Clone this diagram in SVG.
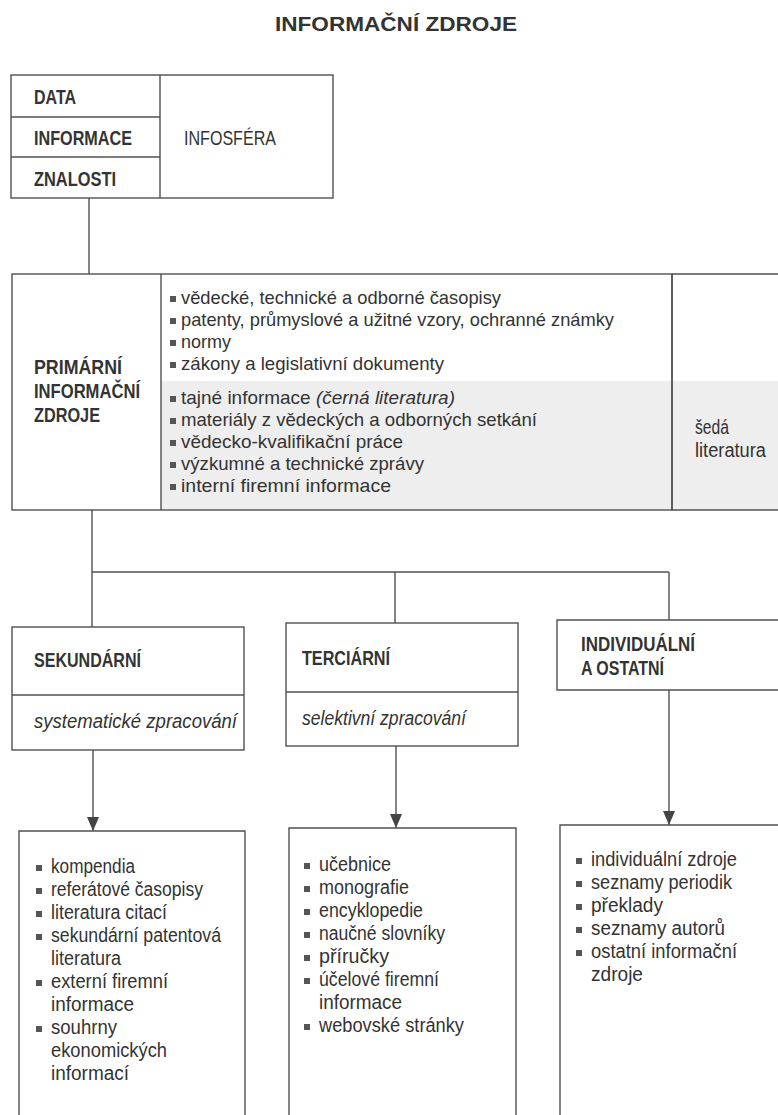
<svg xmlns="http://www.w3.org/2000/svg" width="778" height="1115" viewBox="0 0 778 1115">
<defs>
<style>
.box{fill:none;stroke:#505050;stroke-width:1.4}
.ln{fill:none;stroke:#505050;stroke-width:1.4}
.t{font-family:"Liberation Sans Narrow","Liberation Sans",Arial,sans-serif;font-size:20px;fill:#333}
.p{font-family:"Liberation Sans Narrow","Liberation Sans",Arial,sans-serif;font-size:19px;fill:#333}
.h{font-family:"Liberation Sans Narrow","Liberation Sans",Arial,sans-serif;font-size:20px;font-weight:bold;fill:#333}
.hr{font-family:"Liberation Sans Narrow","Liberation Sans",Arial,sans-serif;font-size:20px;fill:#333}
.i{font-family:"Liberation Sans Narrow","Liberation Sans",Arial,sans-serif;font-size:20px;font-style:italic;fill:#333}
.title{font-family:"Liberation Sans",Arial,sans-serif;font-size:21px;font-weight:bold;fill:#333}
.b{fill:#555}
</style>
<marker id="arr" viewBox="0 0 14 12" refX="14" refY="6" markerWidth="14" markerHeight="12" markerUnits="userSpaceOnUse" orient="auto">
<path d="M0,0 L14,6 L0,12 Z" fill="#444"/>
</marker>
</defs>
<rect width="778" height="1115" fill="#fff"/>
<text class="title" x="275" y="31" textLength="242" lengthAdjust="spacingAndGlyphs">INFORMAČNÍ ZDROJE</text>

<g id="connectors">
<line class="ln" x1="89" y1="198" x2="89" y2="274"/>
<line class="ln" x1="92" y1="510" x2="92" y2="627"/>
<line class="ln" x1="92" y1="572" x2="669" y2="572"/>
<line class="ln" x1="395" y1="572" x2="395" y2="623"/>
<line class="ln" x1="669" y1="572" x2="669" y2="620"/>
<line class="ln" x1="93" y1="750" x2="93" y2="831" marker-end="url(#arr)"/>
<line class="ln" x1="396" y1="746" x2="396" y2="828" marker-end="url(#arr)"/>
<line class="ln" x1="669" y1="690" x2="669" y2="825" marker-end="url(#arr)"/>
</g>

<g id="node-top">
<rect class="box" x="11" y="75" width="322" height="123"/>
<line class="ln" x1="160" y1="75" x2="160" y2="198"/>
<line class="ln" x1="11" y1="117" x2="160" y2="117"/>
<line class="ln" x1="11" y1="157" x2="160" y2="157"/>
<text class="h" x="34" y="104" textLength="42" lengthAdjust="spacingAndGlyphs">DATA</text>
<text class="h" x="34" y="145" textLength="98" lengthAdjust="spacingAndGlyphs">INFORMACE</text>
<text class="h" x="34" y="186" textLength="82" lengthAdjust="spacingAndGlyphs">ZNALOSTI</text>
<text class="hr" x="184" y="145" textLength="92" lengthAdjust="spacingAndGlyphs">INFOSFÉRA</text>
</g>

<g id="node-primary">
<rect x="161" y="381" width="617" height="129" fill="#eeeeee"/>
<rect class="box" x="12" y="274" width="660" height="236"/>
<line class="ln" x1="161" y1="274" x2="161" y2="510"/>
<text class="h" x="34" y="374" textLength="88" lengthAdjust="spacingAndGlyphs">PRIMÁRNÍ</text>
<text class="h" x="34" y="398" textLength="106" lengthAdjust="spacingAndGlyphs">INFORMAČNÍ</text>
<text class="h" x="34" y="422" textLength="66" lengthAdjust="spacingAndGlyphs">ZDROJE</text>
<g class="b">
<rect x="170" y="296" width="6" height="6"/>
<rect x="170" y="318" width="6" height="6"/>
<rect x="170" y="340" width="6" height="6"/>
<rect x="170" y="362" width="6" height="6"/>
<rect x="170" y="396" width="6" height="6"/>
<rect x="170" y="418" width="6" height="6"/>
<rect x="170" y="440" width="6" height="6"/>
<rect x="170" y="462" width="6" height="6"/>
<rect x="170" y="484" width="6" height="6"/>
</g>
<text class="p" x="181" y="304" textLength="320" lengthAdjust="spacingAndGlyphs">vědecké, technické a odborné časopisy</text>
<text class="p" x="181" y="326" textLength="433" lengthAdjust="spacingAndGlyphs">patenty, průmyslové a užitné vzory, ochranné známky</text>
<text class="p" x="181" y="348" textLength="50" lengthAdjust="spacingAndGlyphs">normy</text>
<text class="p" x="181" y="370" textLength="263" lengthAdjust="spacingAndGlyphs">zákony a legislativní dokumenty</text>
<text class="p" x="181" y="404" textLength="274" lengthAdjust="spacingAndGlyphs">tajné informace <tspan font-style="italic">(černá literatura)</tspan></text>
<text class="p" x="181" y="426" textLength="356" lengthAdjust="spacingAndGlyphs">materiály z vědeckých a odborných setkání</text>
<text class="p" x="181" y="448" textLength="222" lengthAdjust="spacingAndGlyphs">vědecko-kvalifikační práce</text>
<text class="p" x="181" y="470" textLength="243" lengthAdjust="spacingAndGlyphs">výzkumné a technické zprávy</text>
<text class="p" x="181" y="492" textLength="210" lengthAdjust="spacingAndGlyphs">interní firemní informace</text>
</g>

<g id="node-seda">
<path class="box" d="M672,274 H778 M672,274 V510 H778"/>
<text class="t" x="695" y="434" textLength="34" lengthAdjust="spacingAndGlyphs">šedá</text>
<text class="t" x="695" y="457" textLength="71" lengthAdjust="spacingAndGlyphs">literatura</text>
</g>

<g id="node-sekundarni">
<rect class="box" x="12" y="627" width="232" height="123"/>
<line class="ln" x1="12" y1="695" x2="244" y2="695"/>
<text class="h" x="34" y="667" textLength="107" lengthAdjust="spacingAndGlyphs">SEKUNDÁRNÍ</text>
<text class="i" x="34" y="728" textLength="203" lengthAdjust="spacingAndGlyphs">systematické zpracování</text>
</g>

<g id="node-terciarni">
<rect class="box" x="286" y="623" width="232" height="123"/>
<line class="ln" x1="286" y1="692" x2="518" y2="692"/>
<text class="h" x="302" y="665" textLength="88" lengthAdjust="spacingAndGlyphs">TERCIÁRNÍ</text>
<text class="i" x="302" y="725" textLength="164" lengthAdjust="spacingAndGlyphs">selektivní zpracování</text>
</g>

<g id="node-individualni">
<path class="box" d="M778,620 H557 V690 H778"/>
<text class="h" x="581" y="651" textLength="114" lengthAdjust="spacingAndGlyphs">INDIVIDUÁLNÍ</text>
<text class="h" x="581" y="675" textLength="83" lengthAdjust="spacingAndGlyphs">A OSTATNÍ</text>
</g>

<g id="list-sekundarni">
<path class="box" d="M19,1115 V831 H245 V1115"/>
<g class="b">
<rect x="36" y="865" width="6" height="6"/>
<rect x="36" y="888" width="6" height="6"/>
<rect x="36" y="911" width="6" height="6"/>
<rect x="36" y="934" width="6" height="6"/>
<rect x="36" y="980" width="6" height="6"/>
<rect x="36" y="1026" width="6" height="6"/>
</g>
<text class="t" x="51" y="873" textLength="84" lengthAdjust="spacingAndGlyphs">kompendia</text>
<text class="t" x="51" y="896" textLength="152" lengthAdjust="spacingAndGlyphs">referátové časopisy</text>
<text class="t" x="51" y="919" textLength="116" lengthAdjust="spacingAndGlyphs">literatura citací</text>
<text class="t" x="51" y="942" textLength="170" lengthAdjust="spacingAndGlyphs">sekundární patentová</text>
<text class="t" x="51" y="965" textLength="70" lengthAdjust="spacingAndGlyphs">literatura</text>
<text class="t" x="51" y="988" textLength="117" lengthAdjust="spacingAndGlyphs">externí firemní</text>
<text class="t" x="51" y="1011" textLength="83" lengthAdjust="spacingAndGlyphs">informace</text>
<text class="t" x="51" y="1034" textLength="66" lengthAdjust="spacingAndGlyphs">souhrny</text>
<text class="t" x="51" y="1057" textLength="116" lengthAdjust="spacingAndGlyphs">ekonomických</text>
<text class="t" x="51" y="1080" textLength="78" lengthAdjust="spacingAndGlyphs">informací</text>
</g>

<g id="list-terciarni">
<path class="box" d="M289,1115 V828 H516 V1115"/>
<g class="b">
<rect x="304" y="863" width="6" height="6"/>
<rect x="304" y="886" width="6" height="6"/>
<rect x="304" y="909" width="6" height="6"/>
<rect x="304" y="932" width="6" height="6"/>
<rect x="304" y="955" width="6" height="6"/>
<rect x="304" y="978" width="6" height="6"/>
<rect x="304" y="1024" width="6" height="6"/>
</g>
<text class="t" x="319" y="871" textLength="72" lengthAdjust="spacingAndGlyphs">učebnice</text>
<text class="t" x="319" y="894" textLength="90" lengthAdjust="spacingAndGlyphs">monografie</text>
<text class="t" x="319" y="917" textLength="104" lengthAdjust="spacingAndGlyphs">encyklopedie</text>
<text class="t" x="319" y="940" textLength="126" lengthAdjust="spacingAndGlyphs">naučné slovníky</text>
<text class="t" x="319" y="963" textLength="70" lengthAdjust="spacingAndGlyphs">příručky</text>
<text class="t" x="319" y="986" textLength="120" lengthAdjust="spacingAndGlyphs">účelové firemní</text>
<text class="t" x="319" y="1009" textLength="83" lengthAdjust="spacingAndGlyphs">informace</text>
<text class="t" x="319" y="1032" textLength="145" lengthAdjust="spacingAndGlyphs">webovské stránky</text>
</g>

<g id="list-individualni">
<path class="box" d="M560,1115 V825 H778"/>
<g class="b">
<rect x="576" y="858" width="6" height="6"/>
<rect x="576" y="881" width="6" height="6"/>
<rect x="576" y="904" width="6" height="6"/>
<rect x="576" y="927" width="6" height="6"/>
<rect x="576" y="950" width="6" height="6"/>
</g>
<text class="t" x="591" y="866" textLength="146" lengthAdjust="spacingAndGlyphs">individuální zdroje</text>
<text class="t" x="591" y="889" textLength="141" lengthAdjust="spacingAndGlyphs">seznamy periodik</text>
<text class="t" x="591" y="912" textLength="72" lengthAdjust="spacingAndGlyphs">překlady</text>
<text class="t" x="591" y="935" textLength="134" lengthAdjust="spacingAndGlyphs">seznamy autorů</text>
<text class="t" x="591" y="958" textLength="146" lengthAdjust="spacingAndGlyphs">ostatní informační</text>
<text class="t" x="591" y="981" textLength="52" lengthAdjust="spacingAndGlyphs">zdroje</text>
</g>
</svg>
